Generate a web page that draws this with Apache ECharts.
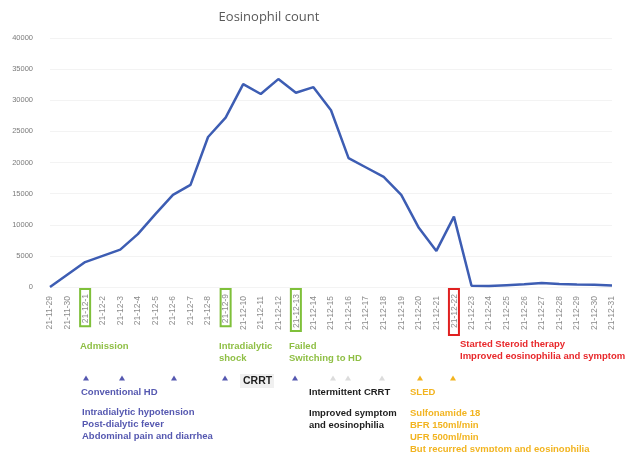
<!DOCTYPE html>
<html>
<head>
<meta charset="utf-8">
<script src="https://cdn.jsdelivr.net/npm/echarts@6/dist/echarts.min.js"></script>
<style>html,body{margin:0;padding:0;background:#fff;}#c{width:627px;height:452px;}</style>
</head>
<body>
<div id="c"></div>
<script>
const categories = ['21-11-29','21-11-30','21-12-1','21-12-2','21-12-3','21-12-4','21-12-5','21-12-6','21-12-7','21-12-8','21-12-9','21-12-10','21-12-11','21-12-12','21-12-13','21-12-14','21-12-15','21-12-16','21-12-17','21-12-18','21-12-19','21-12-20','21-12-21','21-12-22','21-12-23','21-12-24','21-12-25','21-12-26','21-12-27','21-12-28','21-12-29','21-12-30','21-12-31'];
const eosinophil = [0,2000,4000,5000,6000,8500,11700,14800,16400,24100,27200,32600,31000,33400,31200,32100,28400,20700,19200,17700,14800,9500,5800,11300,200,150,300,450,650,500,400,350,250];
const greenBoxed = ['21-12-1','21-12-9','21-12-13'];
const redBoxed = ['21-12-22'];
const yTicks = {min:0, max:40000, interval:5000};

const FONT = '"Liberation Sans", Arial, sans-serif';
const C_GREEN = '#8fbf45', C_BLUE = '#5558b0', C_RED = '#e8282b', C_ORANGE = '#f2b420', C_BLACK = '#1e1e1e';

const chart = echarts.init(document.getElementById('c'));

function txt(x, y, text, color, extra) {
  return Object.assign({
    type: 'text', left: x, top: y,
    style: {text: text, fill: color, font: 'bold 9.5px ' + FONT, lineHeight: 12}
  }, extra || {});
}
function tri(x, y, color) {
  return {type:'polygon', shape:{points:[[x-3,y+2.5],[x+3,y+2.5],[x,y-2.5]]}, style:{fill:color}};
}

chart.setOption({
  animation: false,
  title: {
    text: 'Eosinophil count', left: 264, top: 6, textAlign: 'center',
    textStyle: {fontFamily: '"Open Sans", sans-serif', fontSize: 13, fontWeight: 'normal', color: '#595959'}
  },
  grid: {left: 50, right: 15, top: 38, bottom: 165},
  xAxis: {
    type: 'category', data: categories, boundaryGap: false,
    axisLine: {show: false}, axisTick: {show: false},
    axisLabel: {
      interval: 0, rotate: 90, margin: 2, fontSize: 8.5, color: '#8c8c8c', fontFamily: FONT,
      formatter: function (v) {
        if (greenBoxed.indexOf(v) >= 0) return '{g|' + v + '}';
        if (redBoxed.indexOf(v) >= 0) return '{r|' + v + '}';
        return '{n|' + v + '}';
      },
      rich: {
        n: {fontSize: 8.5, color: '#8c8c8c', padding: [0, 7, 0, 0]},
        g: {fontSize: 8.5, color: '#8c8c8c', borderColor: '#7fc03a', borderWidth: 2, padding: [1, 5, 0, 3]},
        r: {fontSize: 8.5, color: '#8c8c8c', borderColor: '#e02020', borderWidth: 2, padding: [1, 5, 0, 7]}
      }
    }
  },
  yAxis: {
    type: 'value', min: yTicks.min, max: yTicks.max, interval: yTicks.interval,
    axisLine: {show: false}, axisTick: {show: false},
    axisLabel: {fontSize: 7.5, color: '#7a7a7a', margin: 17, fontFamily: FONT, formatter: function (v) { return String(v); }},
    splitLine: {lineStyle: {color: '#f3f3f3'}}
  },
  series: [{
    type: 'line', data: eosinophil, showSymbol: false,
    lineStyle: {color: '#3d5db3', width: 2.5}
  }],
  graphic: [
    txt(80, 340, 'Admission', C_GREEN),
    txt(219, 340, 'Intradialytic\nshock', C_GREEN),
    txt(289, 340, 'Failed\nSwitching to HD', C_GREEN),
    txt(460, 338, 'Started Steroid therapy\nImproved eosinophilia and symptom', C_RED),
    tri(86, 378, C_BLUE), tri(122, 378, C_BLUE), tri(174, 378, C_BLUE), tri(225, 378, C_BLUE), tri(295, 378, C_BLUE),
    tri(333, 378, '#dcdcdc'), tri(348, 378, '#dcdcdc'), tri(382, 378, '#dcdcdc'),
    tri(420, 378, C_ORANGE), tri(453, 378, C_ORANGE),
    {type:'rect', shape:{x:240, y:374, width:34, height:14}, style:{fill:'#f0f0f0'}},
    txt(243, 376, 'CRRT', C_BLACK, {style:{text:'CRRT', fill:C_BLACK, font:'bold 10.5px ' + FONT}}),
    txt(81, 386, 'Conventional HD', C_BLUE),
    txt(82, 406, 'Intradialytic hypotension\nPost-dialytic fever\nAbdominal pain and diarrhea', C_BLUE),
    txt(309, 386, 'Intermittent CRRT', C_BLACK),
    txt(309, 407, 'Improved symptom\nand eosinophilia', C_BLACK),
    txt(410, 386, 'SLED', C_ORANGE),
    txt(410, 407, 'Sulfonamide 18\nBFR 150ml/min\nUFR 500ml/min\nBut recurred symptom and eosinophilia', C_ORANGE)
  ]
});
</script>
</body>
</html>
